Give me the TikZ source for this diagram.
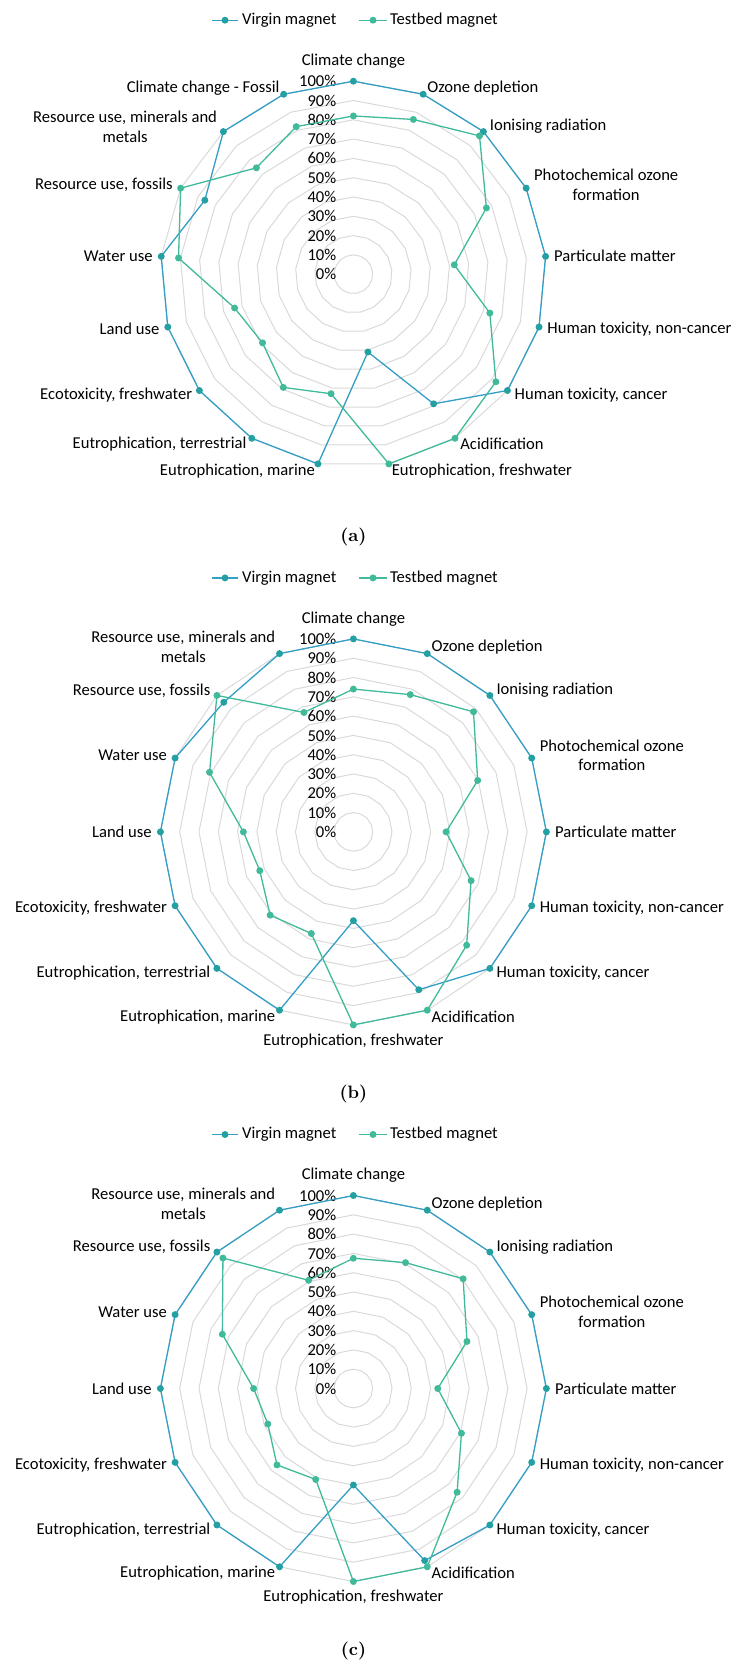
\documentclass[tikz,border=0pt]{standalone}
\usepackage{fontspec}
\newfontfamily\chartfont{Carlito}
\definecolor{virginline}{RGB}{52,158,196}
\definecolor{virginmark}{RGB}{36,160,162}
\definecolor{testbed}{RGB}{64,186,154}
\definecolor{gridgray}{RGB}{217,217,217}
\tikzset{
  lbl/.style={font=\chartfont\fontsize{16.6}{19.8}\selectfont, inner sep=1.5pt, align=center},
  tp/.style={anchor=south, yshift=4pt},
  bt/.style={anchor=north},
  rt/.style={anchor=west},
  lf/.style={anchor=east},
  ring/.style={draw=gridgray, line width=1pt},
  vline/.style={draw=virginline, line width=1.3pt, line join=round},
  tline/.style={draw=testbed, line width=1.3pt, line join=round},
  vdot/.style={circle, fill=virginmark, inner sep=0pt, minimum size=7pt},
  tdot/.style={circle, fill=testbed, inner sep=0pt, minimum size=7pt},
  captext/.style={font=\bfseries, scale=1.8, transform shape}
}
\newcommand{\catsA}{0/tp/Climate change, 1/rt/Ozone depletion, 2/rt/Ionising radiation,
  3/rt/Photochemical ozone\\formation, 4/rt/Particulate matter, 5/rt/{Human toxicity, non-cancer},
  6/rt/{Human toxicity, cancer}, 7/rt/Acidification, 8/rt/{Eutrophication, freshwater},
  9/lf/{Eutrophication, marine}, 10/lf/{Eutrophication, terrestrial}, 11/lf/{Ecotoxicity, freshwater},
  12/lf/Land use, 13/lf/Water use, 14/lf/{Resource use, fossils},
  15/lf/{Resource use, minerals and\\metals}, 16/lf/Climate change - Fossil}
\newcommand{\catsB}{0/tp/Climate change, 1/rt/Ozone depletion, 2/rt/Ionising radiation,
  3/rt/Photochemical ozone\\formation, 4/rt/Particulate matter, 5/rt/{Human toxicity, non-cancer},
  6/rt/{Human toxicity, cancer}, 7/rt/Acidification, 8/bt/{Eutrophication, freshwater},
  9/lf/{Eutrophication, marine}, 10/lf/{Eutrophication, terrestrial}, 11/lf/{Ecotoxicity, freshwater},
  12/lf/Land use, 13/lf/Water use, 14/lf/{Resource use, fossils},
  15/lf/{Resource use, minerals and\\metals}}
% #1 panel, #2 centre y, #3 axes, #4 categories, #5 virgin, #6 testbed
\newcommand{\radarchart}[6]{%
\begin{scope}[shift={(353.4,#2)}]
\pgfmathtruncatemacro{\nlast}{#3-1}
\foreach \r in {1,...,10}
  \draw[ring] (90:{\r*19.3}) \foreach \k in {1,...,#3} { -- ({90-\k*360/#3}:{\r*19.3})} -- cycle;
\foreach \p in {0,10,...,100}
  \node[lbl, anchor=east] (#1-tick\p) at (-15.5,{\p*1.93}) {\p\%};
\foreach \k/\pos/\txt in #4
  \node[lbl, \pos] (#1-cat\k) at ({90-\k*360/#3}:200) {\txt};
% legend
\coordinate (#1-leg1a) at (-141.4,254);
\coordinate (#1-leg1b) at (-115.4,254);
\draw[vline] (#1-leg1a) -- (#1-leg1b);
\node[vdot] (#1-legdot1) at (-128.4,254) {};
\node[lbl, anchor=west] (#1-leg1) at (-113,254) {Virgin magnet};
\coordinate (#1-leg2a) at (5.6,254);
\coordinate (#1-leg2b) at (33.6,254);
\draw[tline] (#1-leg2a) -- (#1-leg2b);
\node[tdot] (#1-legdot2) at (19.6,254) {};
\node[lbl, anchor=west] (#1-leg2) at (35,254) {Testbed magnet};
\node[captext] (#1-cap) at (0,-262.3) {(#1)};
% series
\foreach \v [count=\i from 0] in {#5}
  \coordinate (#1-v\i) at ({90-\i*360/#3}:{\v*1.93});
\foreach \v [count=\i from 0] in {#6}
  \coordinate (#1-t\i) at ({90-\i*360/#3}:{\v*1.93});
\draw[vline] (#1-v0) \foreach \i in {1,...,\nlast} { -- (#1-v\i)} -- cycle;
\foreach \i in {0,...,\nlast} \node[vdot] (#1-vd\i) at (#1-v\i) {};
\draw[tline] (#1-t0) \foreach \i in {1,...,\nlast} { -- (#1-t\i)} -- cycle;
\foreach \i in {0,...,\nlast} \node[tdot] (#1-td\i) at (#1-t\i) {};
\end{scope}}
\begin{document}
\begin{tikzpicture}[x=1pt, y=1pt]
\useasboundingbox (0,0) rectangle (735,-1666);
\radarchart{a}{-274.2}{17}{\catsA}
  {100,100,100,100,100,100,100,79,41,100,100,100,100,100,86,100,100}
  {82,86,97,77,52.5,73.5,92.5,100,100,63,69,59,64,91,100,74.6,82}
\radarchart{b}{-831.9}{16}{\catsB}
  {100,100,100,100,100,100,100,88.5,46,100,100,100,100,100,95,100}
  {74,77,88,69.7,48,66,83,100,100,57,61,52.5,57,80.7,100,67}
\radarchart{c}{-1388.5}{16}{\catsB}
  {100,100,100,100,100,100,100,96.5,50,100,100,100,100,100,100,100}
  {67.5,70.6,80.4,63.7,43.7,60.6,76,100,100,51,56,48,51.7,73.5,95.6,60.7}
\end{tikzpicture}
\end{document}
